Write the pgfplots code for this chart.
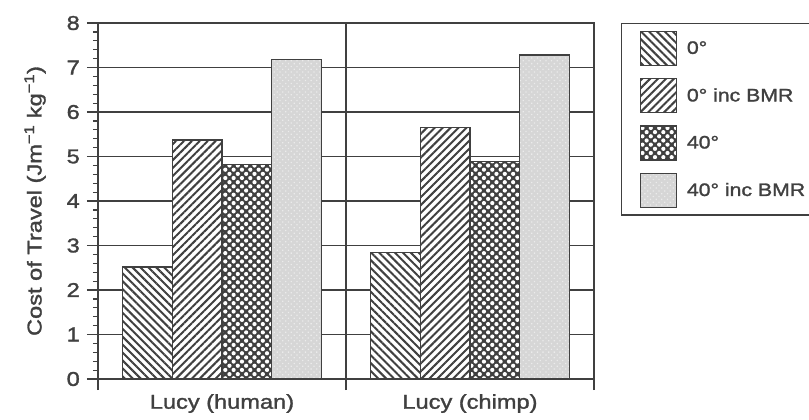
\documentclass[border=0pt]{standalone}
\usepackage{fontspec}
\setmainfont[FakeStretch=1.18,FakeBold=1.5]{Liberation Sans}
\usepackage{pgfplots}
\pgfplotsset{compat=1.18}
\usetikzlibrary{patterns.meta}
\definecolor{ink}{gray}{0.25}
\begin{document}
\begin{tikzpicture}
\useasboundingbox (0,0) rectangle (809bp,420bp);
\begin{axis}[
  at={(98bp,41bp)}, anchor=south west,
  scale only axis, width=496bp, height=356bp,
  xmin=-0.5, xmax=1.5, ymin=0, ymax=8,
  ybar=0pt, bar width=0.2,
  xtick={-0.5,0.5,1.5},
  xticklabels={Lucy (human), Lucy (chimp)},
  x tick label as interval,
  ytick={0,1,...,8},
  minor y tick num=4,
  xmajorgrids, ymajorgrids,
  grid style={ink, line width=1.4bp},
  axis line style={ink, line width=1.4bp},
  every tick/.style={ink, line width=1.2bp},
  tick pos=left, tick align=outside,
  major tick length=11bp, minor tick length=5bp,
  /pgf/number format/assume math mode=true,
  ticklabel style={font=\fontsize{20bp}{24bp}\selectfont, text=ink},
  yticklabel style={inner sep=0pt, xshift=-7bp},
  xticklabel style={inner sep=0pt, yshift=-4bp},
  ylabel={Cost of Travel (Jm\textsuperscript{−1} kg\textsuperscript{−1})},
  ylabel style={font=\fontsize{20bp}{24bp}\selectfont, text=ink, at={(axis description cs:-0.127,0.5)}, anchor=center},
  legend cell align=left,
  legend style={at={(1.0544,1)}, anchor=north west, draw=ink, line width=1.3bp,
    font=\fontsize{18bp}{22bp}\selectfont, text=ink,
    inner xsep=18bp, inner ysep=7bp, row sep=12bp,
    /tikz/every odd column/.append style={column sep=8bp}},
  legend image code/.code={\draw[#1] (0bp,-17bp) rectangle (36bp,17bp);},
]
\addplot[draw=ink, line width=1.3bp, fill=white, postaction={pattern={Lines[angle=-45,distance=5.6bp,line width=2bp]}, pattern color=ink}]
  coordinates {(0,2.52) (1,2.85)};
\addplot[draw=ink, line width=1.3bp, fill=white, postaction={pattern={Lines[angle=45,distance=5.6bp,line width=2bp]}, pattern color=ink}]
  coordinates {(0,5.37) (1,5.65)};
\addplot[draw=ink, line width=1.3bp, fill=ink, postaction={pattern={Dots[distance=5.9bp,radius=2.1bp,angle=45]}, pattern color=white}]
  coordinates {(0,4.82) (1,4.88)};
\addplot[draw=ink, line width=1.3bp, fill=black!16, postaction={pattern={Dots[distance=4bp,radius=0.9bp,angle=45]}, pattern color=black!8}]
  coordinates {(0,7.18) (1,7.28)};
\legend{0°, 0° inc BMR, 40°, 40° inc BMR}
\end{axis}
\end{tikzpicture}
\end{document}
